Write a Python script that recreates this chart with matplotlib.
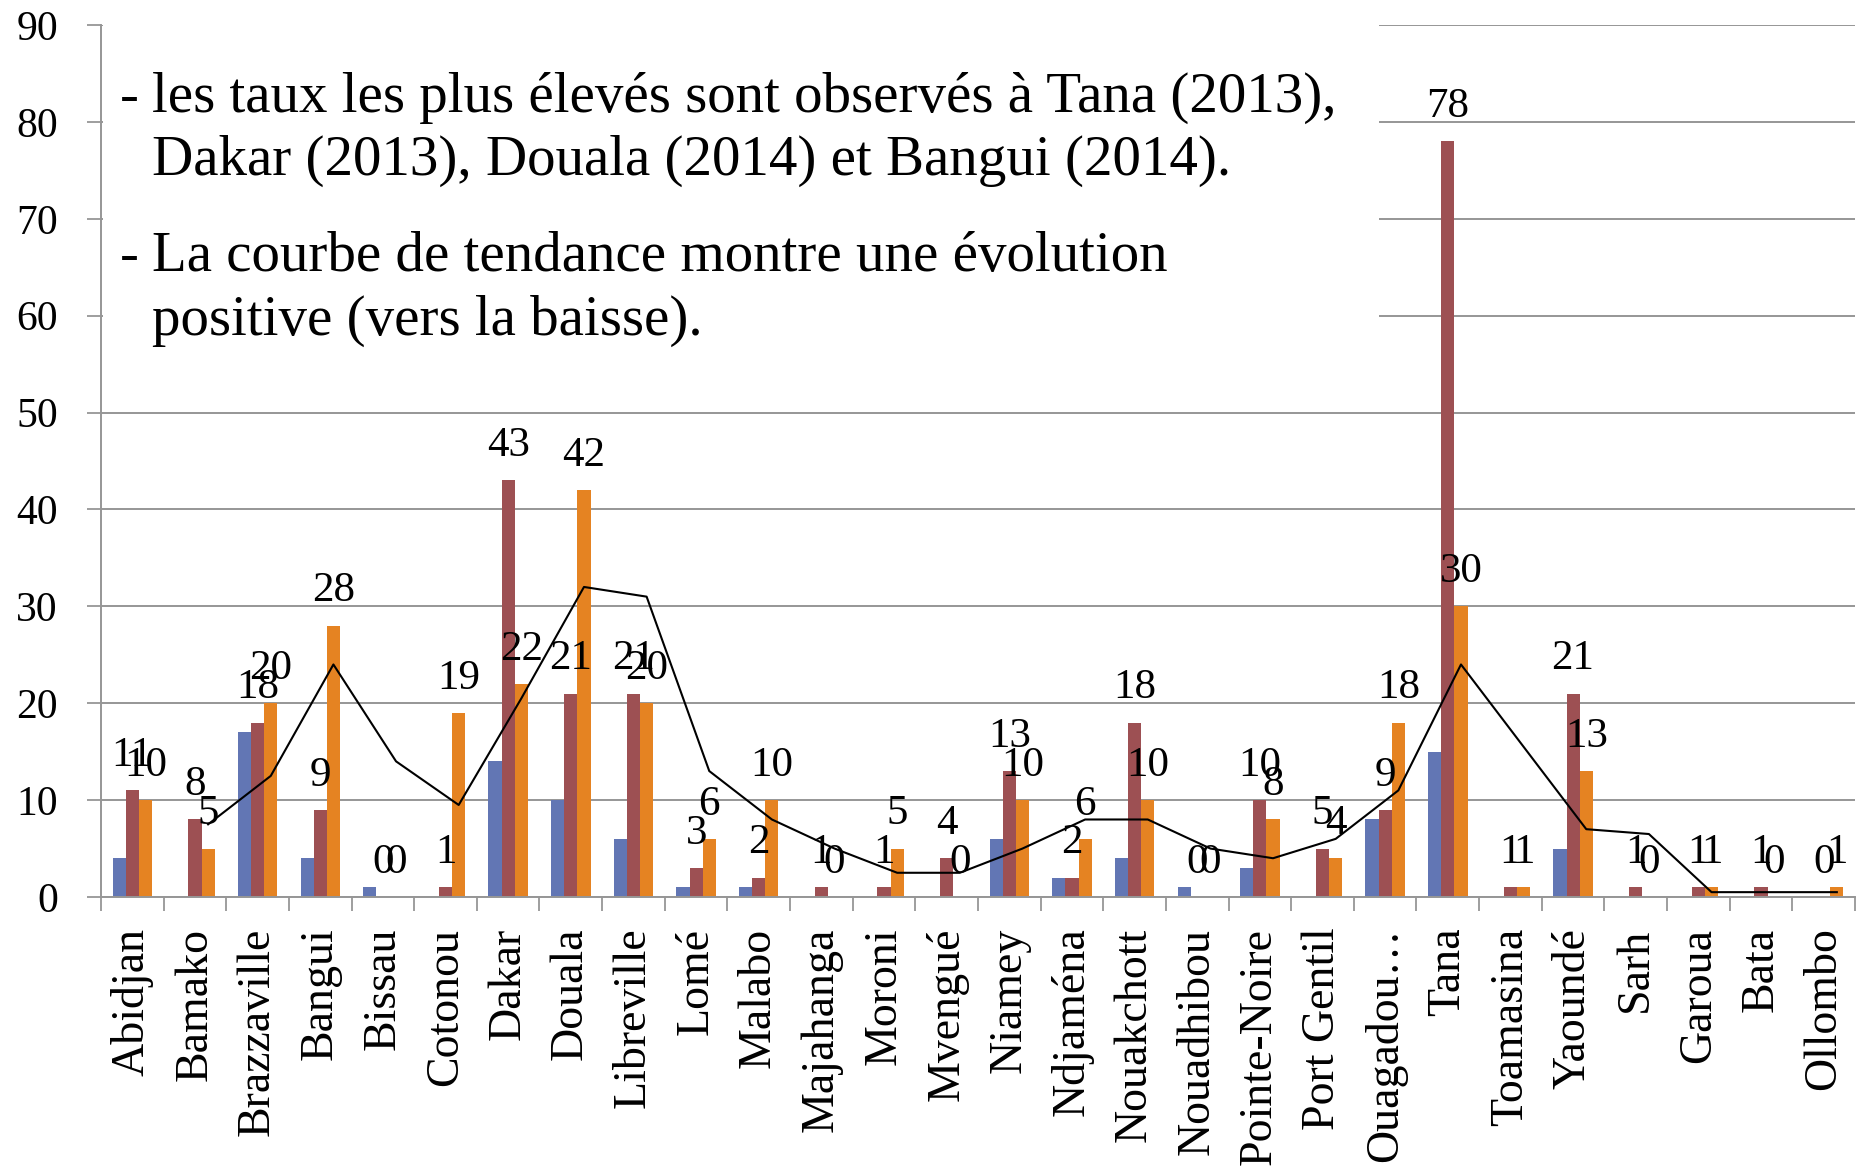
import matplotlib.pyplot as plt
import numpy as np
import pandas as pd
from matplotlib.patches import Rectangle

villes = ["Abidjan", "Bamako", "Brazzaville", "Bangui", "Bissau", "Cotonou", "Dakar",
          "Douala", "Libreville", "Lomé", "Malabo", "Majahanga", "Moroni", "Mvengué",
          "Niamey", "Ndjaména", "Nouakchott", "Nouadhibou", "Pointe-Noire", "Port Gentil",
          "Ouagadou…", "Tana", "Toamasina", "Yaoundé", "Sarh", "Garoua", "Bata", "Ollombo"]

nan = np.nan
taux_2012 = [4, nan, 17, 4, 1, nan, 14, 10, 6, 1, 1, nan, nan, nan,
             6, 2, 4, 1, 3, nan, 8, 15, nan, 5, nan, nan, nan, nan]
taux_2013 = [11, 8, 18, 9, 0, 1, 43, 21, 21, 3, 2, 1, 1, 4,
             13, 2, 18, 0, 10, 5, 9, 78, 1, 21, 1, 1, 1, 0]
taux_2014 = [10, 5, 20, 28, 0, 19, 22, 42, 20, 6, 10, 0, 5, 0,
             10, 6, 10, 0, 8, 4, 18, 30, 1, 13, 0, 1, 0, 1]

commentaire = [
    ("- ", "les taux les plus élevés sont observés à Tana (2013),"),
    ("", "Dakar (2013), Douala (2014) et Bangui (2014)."),
    ("- ", "La courbe de tendance montre une évolution"),
    ("", "positive (vers la baisse)."),
]


def main():
    plt.rcParams['font.family'] = ['Liberation Serif', 'DejaVu Serif']
    W, H = 1858, 1171
    fig = plt.figure(figsize=(W / 100, H / 100), dpi=100)
    ax = fig.add_axes([101 / W, 1 - 897 / H, 1754 / W, 872 / H])

    x = np.arange(len(villes))
    w = 0.21
    b1 = ax.bar(x - w, taux_2012, w, color="#6276B4", zorder=2)
    b2 = ax.bar(x, taux_2013, w, color="#9D5053", zorder=2)
    b3 = ax.bar(x + w, taux_2014, w, color="#E58322", zorder=2)
    ax.bar_label(b2, padding=11, fontsize=31, zorder=5)
    ax.bar_label(b3, padding=11, fontsize=31, zorder=5)

    # moyenne mobile sur 2 periodes (serie 2014)
    moy = pd.Series(taux_2014).rolling(2).mean()
    ax.plot(x + w, moy, color="black", lw=1.5, zorder=4)

    ax.set_xlim(-0.5, len(villes) - 0.5)
    ax.set_ylim(0, 90)
    ax.set_yticks(range(0, 91, 10))
    ax.tick_params(axis='y', labelsize=30, length=10, width=1.3, color="#969696", pad=21)
    ax.set_xticks(np.arange(-0.5, len(villes), 1))
    ax.set_xticklabels([])
    ax.tick_params(axis='x', which='major', length=10, width=1.3, color="#969696")
    ax.set_xticks(x, minor=True)
    ax.set_xticklabels(villes, minor=True, rotation=90, fontsize=33)
    ax.tick_params(axis='x', which='minor', length=0, pad=22)

    ax.yaxis.grid(True, color="#969696", lw=1.4)
    ax.set_axisbelow(True)
    for s in ["top", "right"]:
        ax.spines[s].set_visible(False)
    for s in ["left", "bottom"]:
        ax.spines[s].set_color("#969696")
        ax.spines[s].set_linewidth(1.4)

    # encadre blanc du commentaire
    box = Rectangle((103 / W, 1 - 380 / H), (1379 - 103) / W, (380 - 20) / H,
                    transform=fig.transFigure, facecolor="white", edgecolor="none",
                    zorder=3, clip_on=False)
    ax.add_patch(box)
    bases = [112, 175, 271, 335]
    for (tiret, txt), yb in zip(commentaire, bases):
        if tiret:
            fig.text(120 / W, 1 - yb / H, "-", fontsize=41, va="baseline", zorder=6)
        fig.text(152 / W, 1 - yb / H, txt, fontsize=41, va="baseline", zorder=6)

    plt.savefig("out.png", dpi=100)


if __name__ == '__main__':
    main()
